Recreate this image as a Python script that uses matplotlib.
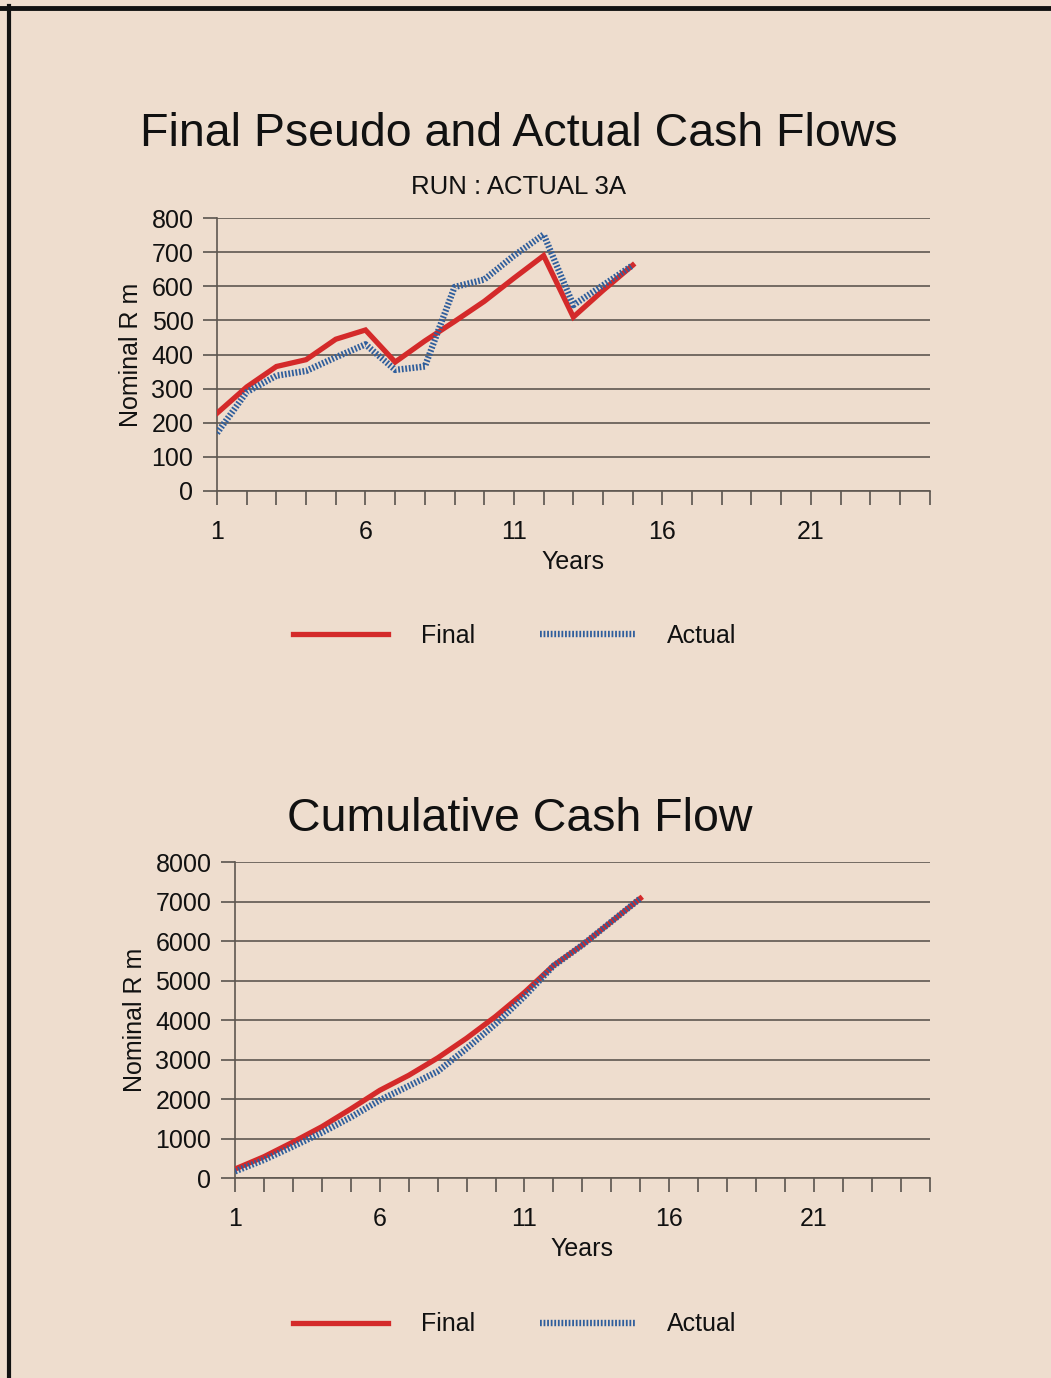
import numpy as np
import matplotlib
matplotlib.use("Agg")
import matplotlib.pyplot as plt
from matplotlib.lines import Line2D

plt.rcParams['font.family'] = ['Liberation Sans', 'DejaVu Sans']

# data
years = [1, 2, 3, 4, 5, 6, 7, 8, 9, 10, 11, 12, 13, 14, 15]
final_cf = [228, 305, 365, 385, 445, 472, 378, 440, 497, 556, 624, 690, 510, 588, 662]
actual_cf = [170, 290, 338, 352, 392, 430, 355, 365, 598, 620, 690, 752, 545, 603, 662]
final_cum = [228, 540, 910, 1300, 1750, 2220, 2600, 3040, 3540, 4090, 4700, 5380, 5900, 6490, 7080]
actual_cum = [170, 460, 800, 1150, 1540, 1970, 2330, 2700, 3280, 3900, 4600, 5370, 5900, 6490, 7080]
xtick_labels = [1, 6, 11, 16, 21]

bg = '#EEDDCE'
red = '#D42A2A'
blue = '#2F5E9C'
grid_c = '#5E5750'
tick_c = '#5A544E'
txt = '#111111'

fig = plt.figure(figsize=(10.51, 13.78), dpi=100, facecolor=bg)

def make_axes(rect, ymax, ystep, final, actual):
	ax = fig.add_axes(rect)
	ax.set_facecolor(bg)
	ax.plot(years, final, color=red, lw=3.8, solid_joinstyle='miter', zorder=3, label='Final')
	ax.plot(years, actual, color=blue, lw=4.6, linestyle=(0, (0.28, 0.28)),
		dash_capstyle='butt', zorder=4, label='Actual')
	ax.set_xlim(1, 25)
	ax.set_ylim(0, ymax)
	ax.set_xticks(range(1, 26))
	ax.set_xticklabels([str(i) if i in xtick_labels else '' for i in range(1, 26)])
	ax.set_yticks(np.arange(0, ymax + 1, ystep))
	ax.yaxis.grid(True, color=grid_c, lw=1.2)
	ax.set_axisbelow(True)
	for s in ['top', 'right']:
		ax.spines[s].set_visible(False)
	for s in ['left', 'bottom']:
		ax.spines[s].set_color(grid_c)
		ax.spines[s].set_linewidth(1.2)
	ax.tick_params(axis='both', direction='out', length=10, width=1.2, color=tick_c,
		labelsize=18, labelcolor=txt)
	ax.tick_params(axis='x', pad=11)
	ax.tick_params(axis='y', pad=7)
	ax.set_xlabel('Years', fontsize=18, labelpad=4, color=txt)
	ax.set_ylabel('Nominal R m', fontsize=18, labelpad=6, color=txt)
	return ax

ax1 = make_axes([0.2065, 0.6437, 0.678, 0.198], 800, 100, final_cf, actual_cf)
ax2 = make_axes([0.2236, 0.1451, 0.661, 0.2293], 8000, 1000, final_cum, actual_cum)

fig.text(0.494, 0.903, 'Final Pseudo and Actual Cash Flows', fontsize=33.5, ha='center', va='center', color=txt)
fig.text(0.493, 0.864, 'RUN : ACTUAL 3A', fontsize=18.5, ha='center', va='center', color=txt)
fig.text(0.495, 0.406, 'Cumulative Cash Flow', fontsize=33.5, ha='center', va='center', color=txt)

for ax, y in [(ax1, 0.5385), (ax2, 0.039)]:
	h, l = ax.get_legend_handles_labels()
	fig.legend(h, l, loc='center', bbox_to_anchor=(0.49, y), ncol=2, frameon=False,
		fontsize=18, handlelength=3.8, handletextpad=1.3, columnspacing=2.6, labelcolor=txt)

# black frame on top and left
fig.add_artist(Line2D([0.0, 1.0], [0.9942, 0.9942], color='#111111', lw=3.5, transform=fig.transFigure))
fig.add_artist(Line2D([0.0085, 0.0085], [0.0, 0.9955], color='#111111', lw=3.0, transform=fig.transFigure))

fig.savefig('out.png', dpi=100, facecolor=bg)
